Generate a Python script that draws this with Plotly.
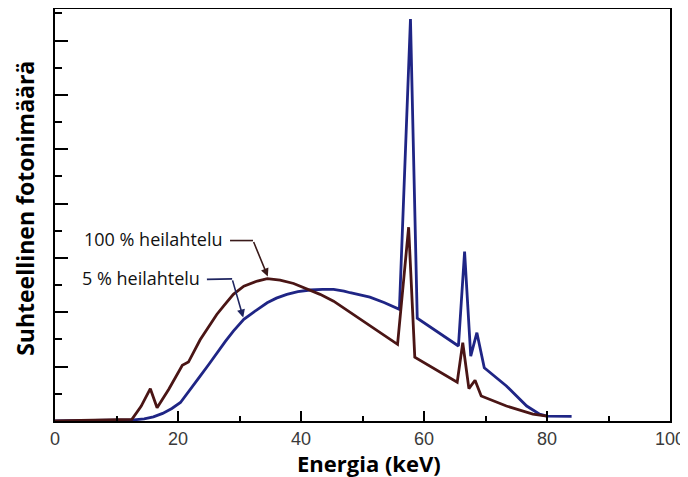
import plotly.graph_objects as go

# --- Data ---
energy_100 = [0, 10, 12.5, 14.0, 15.5, 16.6, 18.5, 20.7, 21.7, 23.6, 25.2, 26.3, 27.4, 29.0,
              30.7, 32.9, 34.5, 36.6, 38.8, 41.0, 43.1, 45.3, 48.0, 51.2, 53.5, 55.7, 57.5, 58.5,
              65.4, 66.3, 67.3, 68.3, 69.3, 73.4, 77.7, 80.0]
counts_100 = [0.0, 0.03, 0.06, 0.54, 1.19, 0.49, 1.17, 2.05, 2.17, 2.99, 3.56, 3.92, 4.23, 4.66,
              4.96, 5.15, 5.24, 5.18, 5.06, 4.84, 4.66, 4.41, 3.99, 3.49, 3.15, 2.82, 7.13, 2.35,
              1.43, 2.88, 1.19, 1.50, 0.92, 0.55, 0.25, 0.18]

energy_5 = [0, 10, 12.8, 14.5, 16.0, 17.5, 19.0, 20.4, 21.9, 23.6, 25.0, 26.3, 27.7, 29.0,
            30.7, 32.2, 33.5, 34.5, 36.0, 37.7, 39.5, 41.5, 43.5, 45.3, 47.0, 48.0, 51.2,
            53.5, 56.0, 57.8, 58.9, 65.6, 66.6, 67.6, 68.6, 69.8, 73.4, 76.7, 78.8, 80.0, 84.0]
counts_5 = [0.0, 0.02, 0.04, 0.08, 0.15, 0.28, 0.46, 0.68, 1.12, 1.65, 2.08, 2.51, 2.93, 3.31,
            3.74, 3.99, 4.20, 4.35, 4.52, 4.66, 4.76, 4.82, 4.84, 4.84, 4.78, 4.72, 4.56,
            4.36, 4.11, 14.79, 3.78, 2.76, 6.23, 2.39, 3.25, 1.96, 1.29, 0.55, 0.25, 0.18, 0.17]

x_ticks = [0, 20, 40, 60, 80, 100]
x_tick_labels = ["0", "20", "40", "60", "80", "100"]

label_100 = "100 % heilahtelu"
label_5 = "5 % heilahtelu"
x_title = "Energia (keV)"
y_title = "Suhteellinen fotonimäärä"

BROWN = "#4a1515"
BLUE = "#1f2585"
TITLE_FONT = "Open Sans, Noto Sans, sans-serif"

fig = go.Figure()
fig.add_trace(go.Scatter(x=energy_5, y=counts_5, mode="lines", name=label_5,
                         line=dict(color=BLUE, width=2.8)))
fig.add_trace(go.Scatter(x=energy_100, y=counts_100, mode="lines", name=label_100,
                         line=dict(color=BROWN, width=2.8)))

# Elbow leader lines
fig.add_shape(type="path", path="M 28.46 6.64 L 32.2 6.64",
              line=dict(color="#3a1a1a", width=1.6), xref="x", yref="y")
fig.add_shape(type="path", path="M 24.7 5.21 L 28.8 5.23",
              line=dict(color="#1f2560", width=1.6), xref="x", yref="y")
# Arrows
fig.add_annotation(x=34.6, y=5.32, ax=32.2, ay=6.64, axref="x", ayref="y", xref="x", yref="y",
                   text="", showarrow=True, arrowhead=2, arrowsize=1, arrowwidth=1.6,
                   arrowcolor="#3a1a1a")
fig.add_annotation(x=30.6, y=3.81, ax=28.8, ay=5.23, axref="x", ayref="y", xref="x", yref="y",
                   text="", showarrow=True, arrowhead=2, arrowsize=1, arrowwidth=1.6,
                   arrowcolor="#1f2560")
# Labels
fig.add_annotation(x=27.6, y=6.68, xref="x", yref="y", text=label_100, showarrow=False,
                   xanchor="right", yanchor="middle",
                   font=dict(family=TITLE_FONT, size=18, color="#111"))
fig.add_annotation(x=23.9, y=5.25, xref="x", yref="y", text=label_5, showarrow=False,
                   xanchor="right", yanchor="middle",
                   font=dict(family=TITLE_FONT, size=18, color="#111"))

# Axis titles
fig.add_annotation(x=0.51, y=-0.101, xref="paper", yref="paper", text="<b>" + x_title + "</b>",
                   showarrow=False, xanchor="center", yanchor="middle", borderpad=0,
                   font=dict(family=TITLE_FONT, size=22, color="black"))
fig.add_annotation(x=-0.049, y=0.517, xref="paper", yref="paper", text="<b>" + y_title + "</b>",
                   showarrow=False, xanchor="center", yanchor="middle", textangle=-90,
                   font=dict(family=TITLE_FONT, size=23, color="black"))

fig.update_layout(
    width=680, height=469,
    margin=dict(l=47, r=18, t=1, b=56),
    paper_bgcolor="white", plot_bgcolor="white",
    showlegend=False,
    xaxis=dict(range=[0, 100], tickvals=x_ticks, ticktext=x_tick_labels,
               ticks="inside", ticklen=10, tickwidth=1.5, tickcolor="black",
               minor=dict(dtick=10, ticks="inside", ticklen=5, tickwidth=1.5, tickcolor="black"),
               showgrid=False, zeroline=False, automargin=False,
               showline=True, linecolor="black", linewidth=2, mirror=True,
               tickfont=dict(family="Liberation Sans, Arial", size=18, color="#3a3a3a")),
    yaxis=dict(range=[0, 15.16], dtick=2, tick0=0,
               ticks="inside", ticklen=13, tickwidth=1.5, tickcolor="black",
               minor=dict(dtick=1, ticks="inside", ticklen=7, tickwidth=1.5, tickcolor="black"),
               showticklabels=False, showgrid=False, zeroline=False, automargin=False,
               showline=True, linecolor="black", linewidth=2, mirror=True),
)

fig.write_html("out.html")
